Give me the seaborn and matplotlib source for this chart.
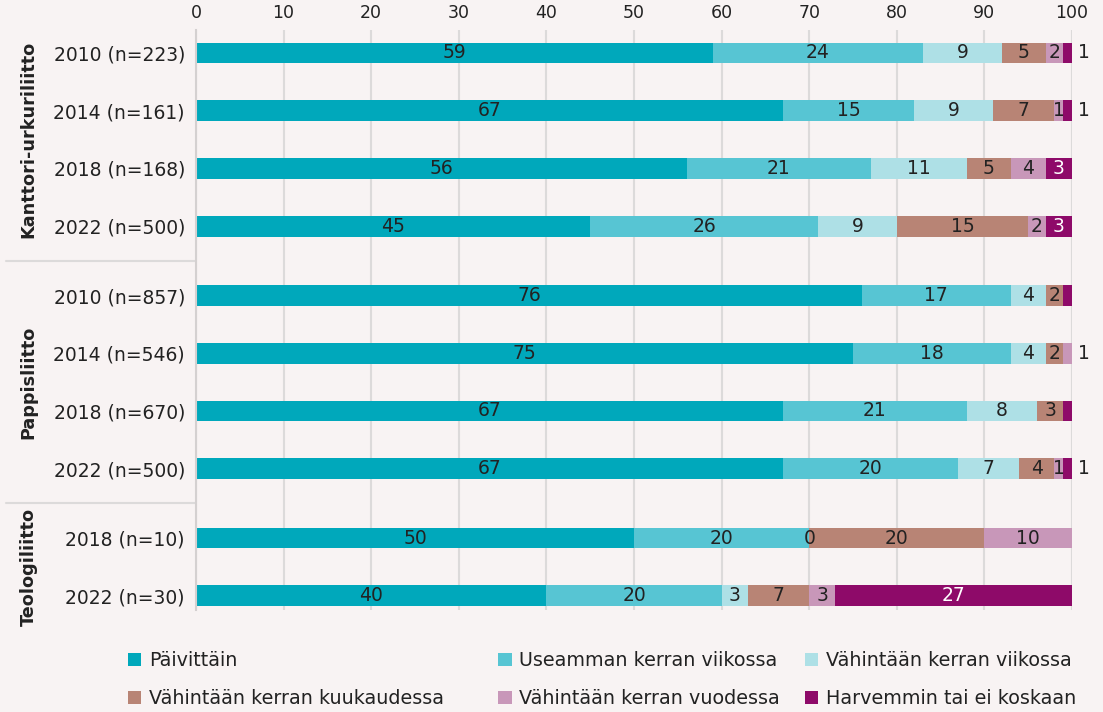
import matplotlib
matplotlib.use('Agg')
import matplotlib.pyplot as plt
import matplotlib.transforms as mtransforms
from matplotlib.patches import Patch
import pandas as pd
import numpy as np
import seaborn as sns

# Data
rows = ['2010 (n=223)', '2014 (n=161)', '2018 (n=168)', '2022 (n=500)',
        '2010 (n=857)', '2014 (n=546)', '2018 (n=670)', '2022 (n=500)',
        '2018 (n=10)', '2022 (n=30)']
groups = ['Kanttori-urkuriliitto'] * 4 + ['Pappisliitto'] * 4 + ['Teologiliitto'] * 2
group_names = ['Kanttori-urkuriliitto', 'Pappisliitto', 'Teologiliitto']

categories = ['Päivittäin', 'Useamman kerran viikossa', 'Vähintään kerran viikossa',
              'Vähintään kerran kuukaudessa', 'Vähintään kerran vuodessa',
              'Harvemmin tai ei koskaan']
paivittain = [59, 67, 56, 45, 76, 75, 67, 67, 50, 40]
useamman = [24, 15, 21, 26, 17, 18, 21, 20, 20, 20]
viikossa = [9, 9, 11, 9, 4, 4, 8, 7, 0, 3]
kuukaudessa = [5, 7, 5, 15, 2, 2, 3, 4, 20, 7]
vuodessa = [2, 1, 4, 2, 0, 1, 0, 1, 10, 3]
harvemmin = [1, 1, 3, 3, 1, 0, 1, 1, 0, 27]

colors = ['#00a8bb', '#57c5d3', '#aee0e6', '#b88475', '#c897b9', '#8e0a69']

# label exceptions (row, category)
outside_labels = [(0, 5), (1, 5), (5, 4), (7, 5)]
hidden_labels = [(4, 5), (6, 5)]
zero_labels = [(8, 2)]

series = [paivittain, useamman, viikossa, kuukaudessa, vuodessa, harvemmin]
df = pd.DataFrame(dict(zip(categories, series)))
df['row'] = rows
df['group'] = groups
gidx = [group_names.index(g) for g in groups]
df['pos'] = np.arange(len(rows)) + 0.2 * np.array(gidx)

bg = '#f8f3f3'
sns.set_theme(style='white')
plt.rcParams['font.family'] = ['DejaVu Sans']
plt.rcParams['text.color'] = '#222222'

fig = plt.figure(figsize=(11.03, 7.12), dpi=100, facecolor=bg)
ax = fig.add_axes([0.1777, 0.143, 0.7942, 0.815])
ax.set_facecolor(bg)

cum = df[categories].cumsum(axis=1)
# draw cumulative layers, widest first
for i in range(len(categories) - 1, -1, -1):
    d = pd.DataFrame({'x': cum[categories[i]], 'y': df['pos']})
    sns.barplot(data=d, x='x', y='y', orient='h', native_scale=True,
                color=colors[i], saturation=1, width=0.36, ax=ax,
                linewidth=0, errorbar=None)

# labels
for r in range(len(rows)):
    left = 0
    for c, cat in enumerate(categories):
        v = df[cat].iloc[r]
        y = df['pos'].iloc[r]
        txtcol = 'white' if c == 5 else '#222222'
        if (r, c) in outside_labels:
            ax.text(101.4, y, str(v), ha='center', va='center', fontsize=13.5, color='#222222')
        elif (r, c) in hidden_labels:
            pass
        elif v > 0 or (r, c) in zero_labels:
            ax.text(left + v / 2, y, str(v), ha='center', va='center', fontsize=13.5, color=txtcol)
        left += v

ax.set_xlim(0, 100)
ax.set_ylim(df['pos'].iloc[-1] + 0.25, -0.4)
ax.xaxis.tick_top()
ax.set_xticks(range(0, 101, 10))
ax.tick_params(axis='x', length=0, labelsize=12.5, pad=6, colors='#222222')
ax.set_yticks(df['pos'])
ax.set_yticklabels(rows)
ax.tick_params(axis='y', length=0, labelsize=13.5, pad=8, colors='#222222')
ax.set_xlabel('')
ax.set_ylabel('')
ax.grid(axis='x', color='#dcdada', linewidth=1.5)
ax.set_axisbelow(True)
for s in ['top', 'right', 'bottom']:
    ax.spines[s].set_visible(False)
ax.spines['left'].set_color('#d4d0d0')
ax.spines['left'].set_linewidth(1.5)

# group labels and separators
trans = mtransforms.blended_transform_factory(fig.transFigure, ax.transData)
for g in group_names:
    p = df.loc[df['group'] == g, 'pos']
    ax.text(0.026, (p.min() + p.max()) / 2, g, rotation=90, ha='center', va='center',
            fontsize=12.7, fontweight='bold', transform=trans)
for y in [3.6, 7.8]:
    ax.plot([0.005, 0.177], [y, y], color='#dcdada', linewidth=1.5,
            transform=trans, clip_on=False)

# legend: three columns, two rows
handles = [Patch(facecolor=colors[i], edgecolor='none') for i in range(6)]
col_x = [0.1, 0.436, 0.714]
for k, x0 in enumerate(col_x):
    idx = [k, k + 3]
    leg = fig.legend([handles[i] for i in idx], [categories[i] for i in idx],
                     loc='upper left', bbox_to_anchor=(x0, 0.11),
                     frameon=False, fontsize=13.8, handlelength=0.7, handleheight=0.7,
                     handletextpad=0.4, labelspacing=1.0)

fig.savefig('out.png', dpi=100, facecolor=bg)
